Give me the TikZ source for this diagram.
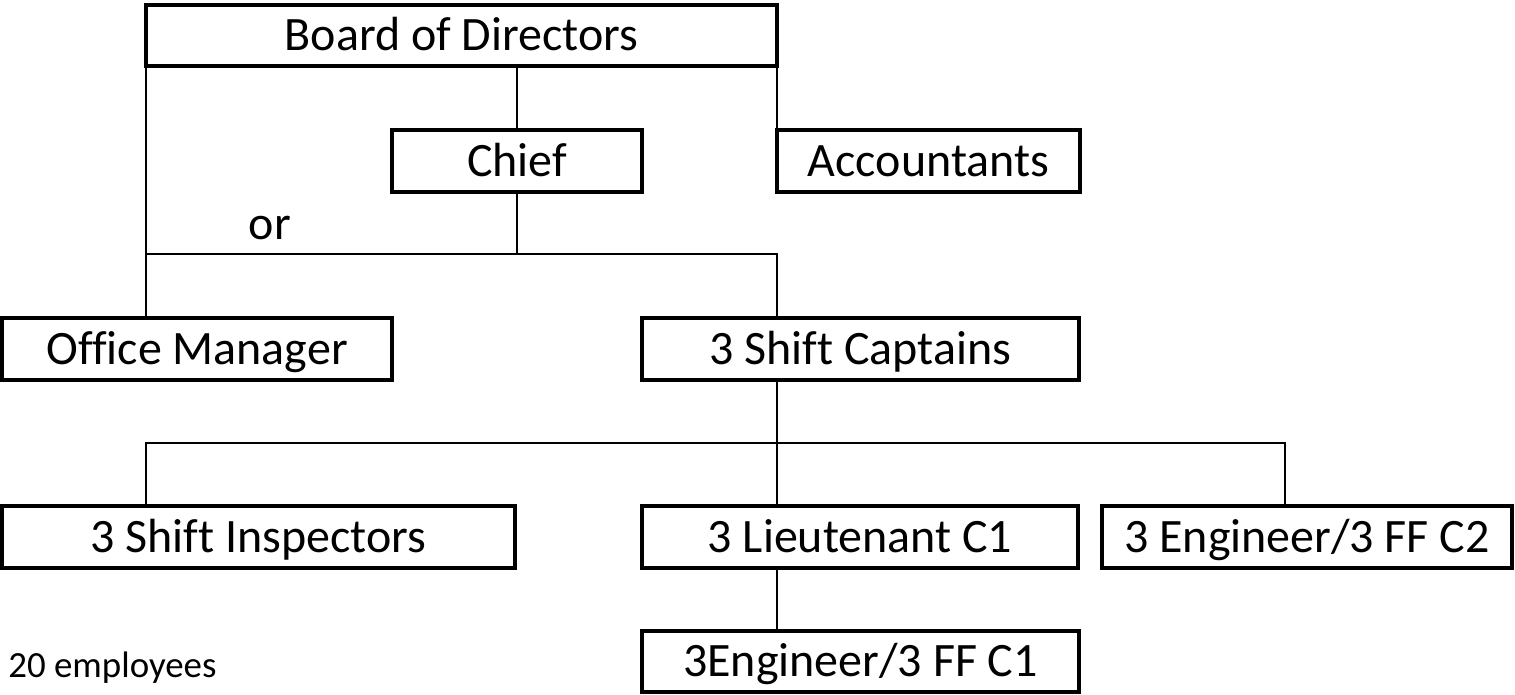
\documentclass[tikz,border=0pt]{standalone}
\usepackage{fontspec}
\setmainfont{Carlito}[Ligatures=NoCommon]
\usetikzlibrary{calc}
\newcommand{\boxfont}{\fontsize{27.3}{32}\selectfont}
\newcommand{\notefont}{\fontsize{21}{25}\selectfont}

\begin{document}
\begin{tikzpicture}[x=0.02cm,y=-0.02cm,
  orgbox/.style={draw,line width=1.9pt,inner sep=0pt,outer sep=0pt,font=\boxfont,
    text height=17.4pt,text depth=0pt,minimum height=1.24cm},
  link/.style={line width=1.6pt}]
\useasboundingbox (0,0) rectangle (1515,695);

% boxes
\node[orgbox,minimum width=12.62cm,minimum height=1.22cm] (board) at (461.5,35.5) {Board of Directors};
\node[orgbox,minimum width=5cm] (chief) at (517,161) {Chief};
\node[orgbox,minimum width=6.06cm] (acct) at (928.5,161) {Accountants};
\node[orgbox,minimum width=7.8cm] (office) at (197,349) {Office Manager};
\node[orgbox,minimum width=8.74cm] (captains) at (860.5,349) {3 Shift Captains};
\node[orgbox,minimum width=10.26cm] (insp) at (258.5,537) {3 Shift Inspectors};
\node[orgbox,minimum width=8.72cm] (lieut) at (860,537) {3 Lieutenant C1};
\node[orgbox,minimum width=8.2cm] (engtwo) at (1307,537) {3 Engineer/3 FF C2};
\node[orgbox,minimum width=8.74cm,minimum height=1.22cm] (engone) at (860.5,661.5) {3Engineer/3 FF C1};

% texts
\node[font=\boxfont,inner sep=0pt,anchor=base] (ortext) at (270,240) {or};
\node[font=\notefont,inner sep=0pt,anchor=base west] (staff) at (8,678) {20 employees};

% upper connectors
\draw[link] (chief.north) -- (chief.north |- board.south);
\draw[link] (board.south west) -- (board.south west |- office.north);
\draw[link] (board.south east) -- (board.south east |- acct.north);
\draw[link] (chief.south) -- ++(0,62) coordinate (jc);
\draw[link] (board.south west |- jc) -| (acct.west |- captains.north);

% lower connectors
\coordinate (etop) at (1285,505);
\draw[link] (captains.south -| acct.west) -- (lieut.north -| acct.west);
\path (captains.south -| acct.west) ++(0,63) coordinate (jl);
\draw[link] (insp.north -| board.west) |- (jl) -| (etop);
\draw[link] (lieut.south -| acct.west) -- (engone.north -| acct.west);

\end{tikzpicture}
\end{document}
